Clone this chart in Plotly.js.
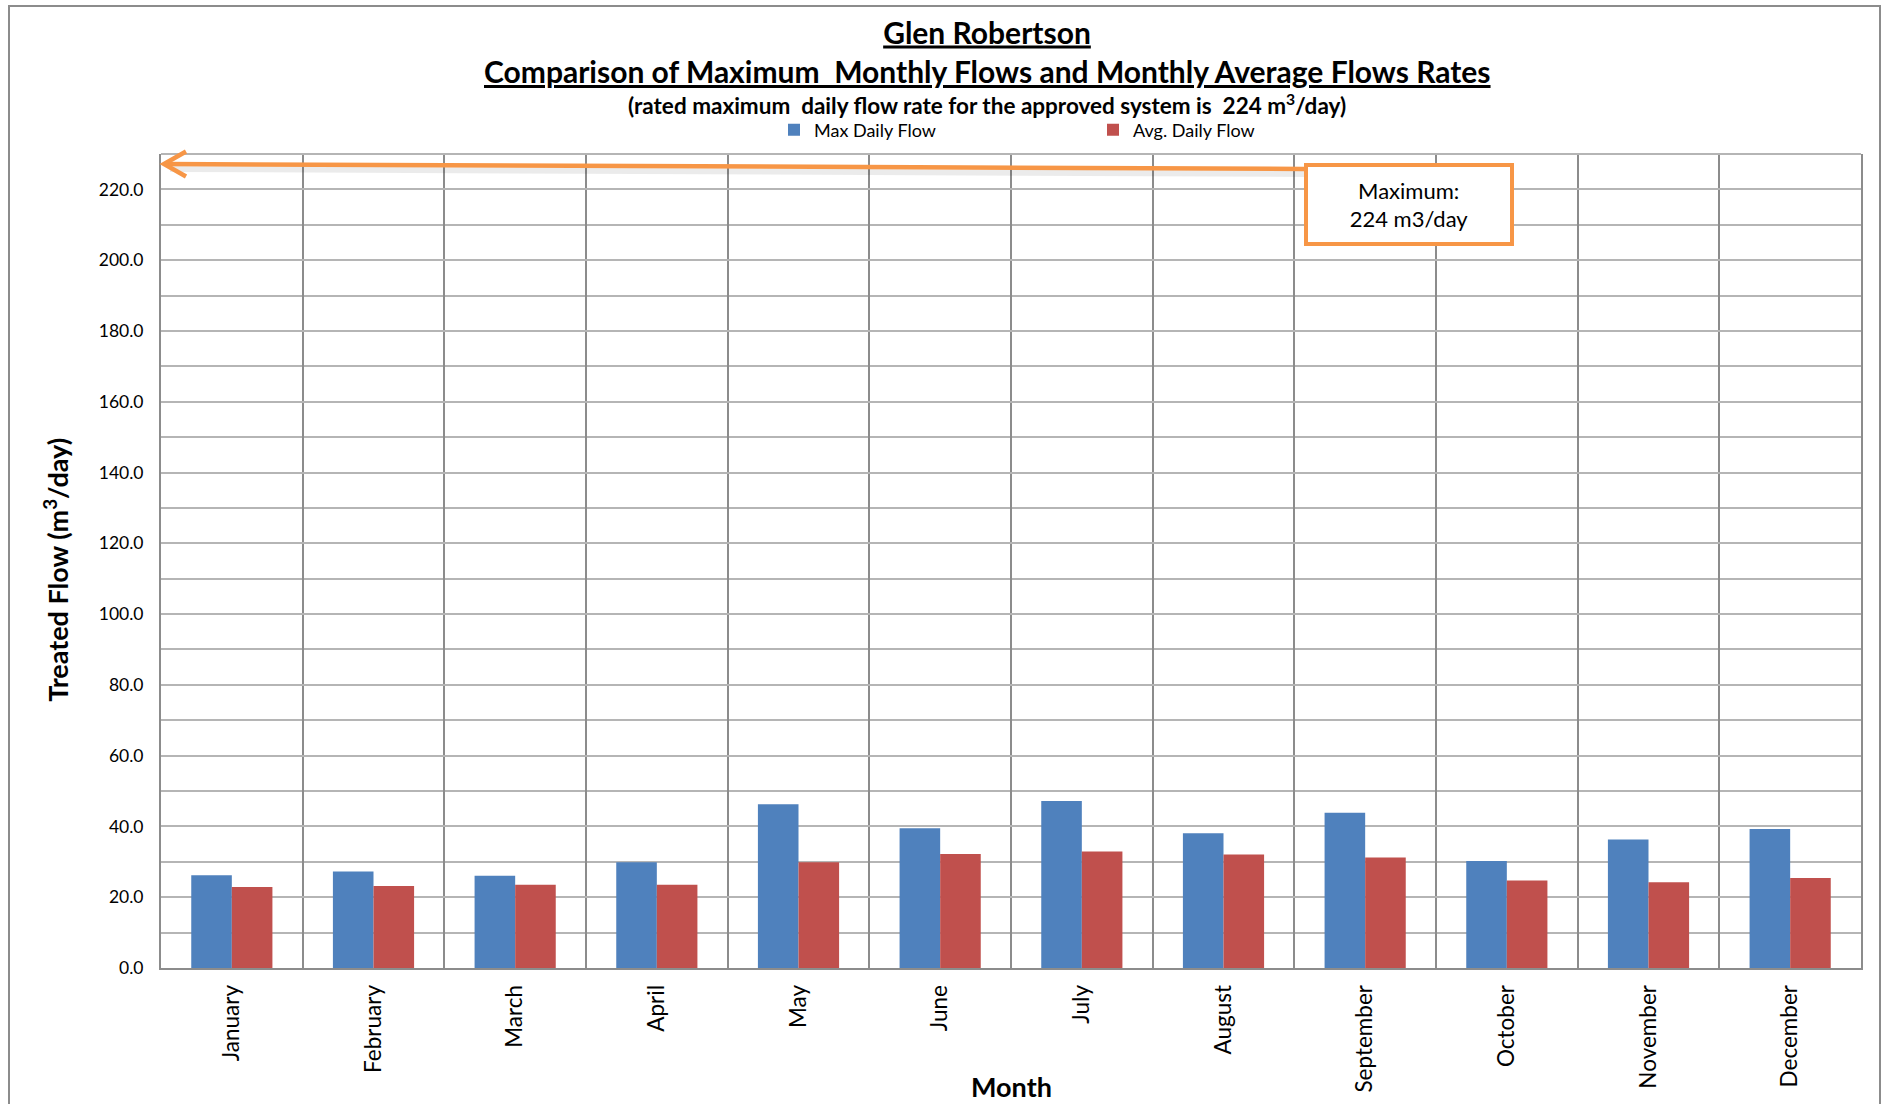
<!DOCTYPE html>
<html>
<head>
<meta charset="utf-8">
<script src="https://cdn.plot.ly/plotly-3.0.1.min.js"></script>
<style>
  html, body { margin: 0; padding: 0; background: #ffffff; }
  #wrap { position: relative; width: 1881px; height: 1104px; overflow: hidden; }
  #chart { position: absolute; left: 0; top: 0; width: 1881px; height: 1104px; }
  #frame { position: absolute; left: 8px; top: 5px; width: 1869px; height: 1200px;
           border: 2px solid #8c8c8c; pointer-events: none; }
</style>
</head>
<body>
<div id="wrap">
  <div id="chart"></div>
  <div id="frame"></div>
</div>
<script>
// ---- data ----
const months = ['January', 'February', 'March', 'April', 'May', 'June',
                'July', 'August', 'September', 'October', 'November', 'December'];
const maxDailyFlow = [26.2, 27.3, 26.1, 29.9, 46.3, 39.5, 47.2, 38.1, 43.9, 30.2, 36.3, 39.3];
const avgDailyFlow = [22.9, 23.2, 23.5, 23.5, 29.9, 32.2, 32.9, 32.1, 31.2, 24.7, 24.2, 25.4];
const yTickVals = [0, 20, 40, 60, 80, 100, 120, 140, 160, 180, 200, 220];
const yTickText = yTickVals.map(v => v.toFixed(1));
const seriesNames = ['Max Daily Flow', 'Avg. Daily Flow'];
const ratedMax = 224;

const FONT = 'Lato, "Open Sans", "DejaVu Sans", sans-serif';
const ORANGE = '#F79646';

const traces = [
  { type: 'bar', name: seriesNames[0], x: months, y: maxDailyFlow,
    marker: { color: '#4F81BD', line: { width: 0 } }, hoverinfo: 'x+y' },
  { type: 'bar', name: seriesNames[1], x: months, y: avgDailyFlow,
    marker: { color: '#C0504D', line: { width: 0 } }, hoverinfo: 'x+y' }
];

// paper-coordinate helpers for decorations (pixel -> paper)
const PX = p => (p - 161) / 1700;
const PY = p => (968.3 - p) / 814.3;
const TITLE_X = PX(987);

const layout = {
  width: 1881, height: 1104,
  margin: { l: 161, r: 20, t: 154, b: 136 },
  paper_bgcolor: 'rgba(0,0,0,0)',
  plot_bgcolor: '#ffffff',
  font: { family: FONT, color: '#000000' },
  barmode: 'group',
  bargap: 0.427,
  bargroupgap: 0,
  showlegend: true,
  legend: {
    orientation: 'h', x: PX(774), y: PY(130), xanchor: 'left', yanchor: 'middle',
    font: { family: FONT, size: 18, color: '#000' },
    entrywidth: 274, entrywidthmode: 'pixels', itemwidth: 30,
    bgcolor: 'rgba(0,0,0,0)', traceorder: 'normal'
  },
  title: {
    text: '<u>Glen Robertson</u>',
    font: { family: FONT, size: 30, color: '#000', weight: 'bold' },
    x: TITLE_X, xref: 'paper', xanchor: 'center',
    y: 1 - 33 / 1104, yref: 'container', yanchor: 'middle'
  },
  xaxis: {
    type: 'category',
    tickson: 'boundaries',
    showgrid: true, gridcolor: '#8c8c8c', gridwidth: 2,
    showline: true, linecolor: '#8c8c8c', linewidth: 2,
    ticks: '', tickangle: -90,
    ticklabelstandoff: 6,
    tickfont: { family: FONT, size: 22.5, color: '#000' },
    zeroline: false, fixedrange: true
  },
  yaxis: {
    range: [0, 230],
    tickmode: 'array', tickvals: yTickVals, ticktext: yTickText,
    showgrid: true, gridcolor: '#b5b5b5', gridwidth: 2,
    minor: { tickmode: 'linear', tick0: 0, dtick: 10, showgrid: true,
             gridcolor: '#b5b5b5', gridwidth: 2, ticks: '' },
    showline: true, linecolor: '#8c8c8c', linewidth: 2, mirror: true,
    ticks: '', ticklabelstandoff: 12,
    tickfont: { family: FONT, size: 17.5, color: '#000' },
    zeroline: false, fixedrange: true
  },
  annotations: [
    { text: '<b><u>Comparison of Maximum\u00a0 Monthly Flows and Monthly Average Flows Rates</u></b>',
      xref: 'paper', yref: 'paper', x: TITLE_X, y: PY(71),
      xanchor: 'center', yanchor: 'middle', showarrow: false,
      font: { family: FONT, size: 30, color: '#000' } },
    { text: '<b>(rated maximum\u00a0 daily flow rate for the approved system is\u00a0 ' + ratedMax + ' m<sup>3</sup>/day)</b>',
      xref: 'paper', yref: 'paper', x: TITLE_X, y: PY(104),
      xanchor: 'center', yanchor: 'middle', showarrow: false,
      font: { family: FONT, size: 22.5, color: '#000' } },
    { text: '<b>Treated Flow (m<sup>3</sup>/day)</b>',
      xref: 'paper', yref: 'paper', x: PX(56), y: PY(570),
      xanchor: 'center', yanchor: 'middle', showarrow: false, textangle: -90,
      font: { family: FONT, size: 27, color: '#000' } },
    { text: '<b>Month</b>',
      xref: 'paper', yref: 'paper', x: 0.5, y: PY(1087),
      xanchor: 'center', yanchor: 'middle', showarrow: false,
      font: { family: FONT, size: 27, color: '#000' } },
    { text: 'Maximum:<br>' + ratedMax + ' m3/day',
      xref: 'paper', yref: 'paper', x: PX(1409), y: PY(204.5),
      xanchor: 'center', yanchor: 'middle', showarrow: false,
      width: 202, height: 75, align: 'center', valign: 'middle',
      bgcolor: '#ffffff', bordercolor: ORANGE, borderwidth: 4, borderpad: 0,
      font: { family: FONT, size: 22, color: '#000' } }
  ],
  shapes: [
    // top frame of plot area
    { type: 'line', xref: 'paper', yref: 'paper', x0: 0, x1: 1, y0: 1, y1: 1,
      line: { color: '#b5b5b5', width: 2 } },
    // arrow shadow
    { type: 'line', xref: 'paper', yref: 'paper',
      x0: PX(1304), y0: PY(174), x1: PX(170), y1: PY(169),
      line: { color: 'rgba(0,0,0,0.08)', width: 6 }, layer: 'above' },
    // arrow line
    { type: 'line', xref: 'paper', yref: 'paper',
      x0: PX(1304), y0: PY(169), x1: PX(165), y1: PY(164),
      line: { color: ORANGE, width: 4.5 }, layer: 'above' },
    // arrow head (open chevron)
    { type: 'path', xref: 'paper', yref: 'paper',
      path: 'M ' + PX(186) + ',' + PY(151.5) +
            ' L ' + PX(164) + ',' + PY(164) +
            ' L ' + PX(186) + ',' + PY(176.5),
      line: { color: ORANGE, width: 4.5 }, layer: 'above' }
  ]
};

Plotly.newPlot('chart', traces, layout, { displayModeBar: false, staticPlot: true });
</script>
</body>
</html>
